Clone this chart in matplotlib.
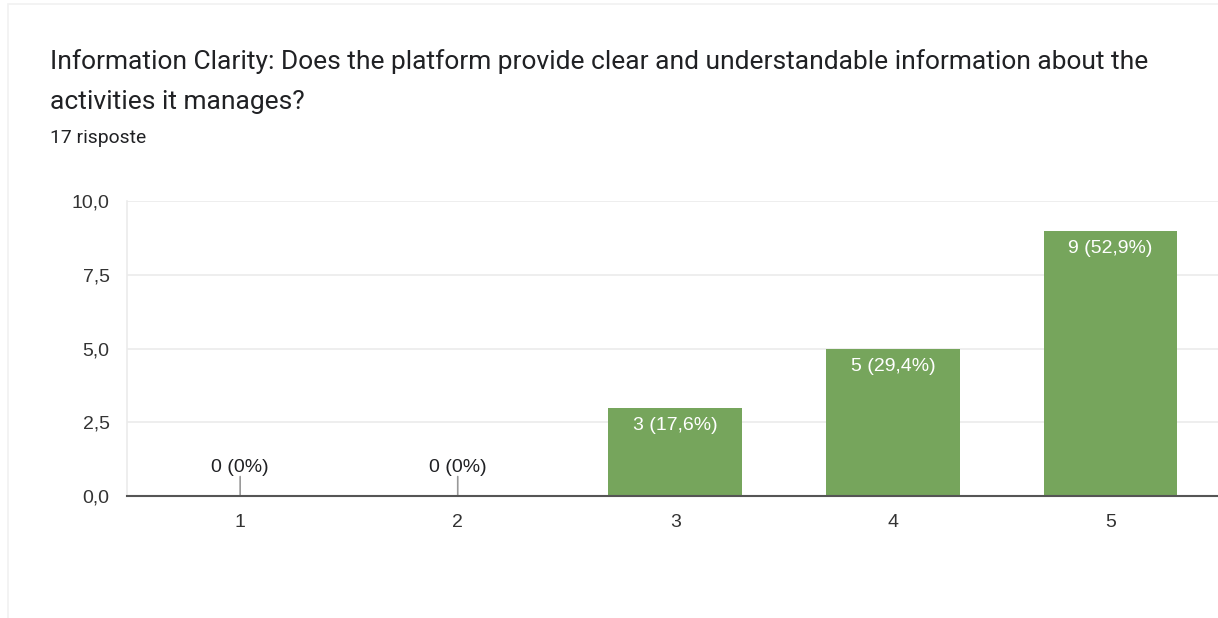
import matplotlib
matplotlib.use("Agg")
import matplotlib.pyplot as plt
from matplotlib.patches import Rectangle

categories = ["1", "2", "3", "4", "5"]
counts = [0, 0, 3, 5, 9]
labels = ["0 (0%)", "0 (0%)", "3 (17,6%)", "5 (29,4%)", "9 (52,9%)"]
yticks = [0.0, 2.5, 5.0, 7.5, 10.0]
ytick_labels = ["0,0", "2,5", "5,0", "7,5", "10,0"]
title_lines = ["Information Clarity: Does the platform provide clear and understandable information about the",
               "activities it manages?"]
subtitle = "17 risposte"

bar_color = "#76a55c"
text_color = "#202124"
tick_color = "#333333"
grid_color = "#ebebeb"

W, H = 1218, 618
fig = plt.figure(figsize=(W / 100, H / 100), dpi=100)
fig.patch.set_facecolor("white")

# card border
fig.add_artist(Rectangle((8 / W, -0.05), 1.2, 1 - 4 / H + 0.05, transform=fig.transFigure,
                         facecolor="none", edgecolor="#f1f1f1", linewidth=1.2))

fig.text(50 / W, 1 - 62 / H, title_lines[0], fontsize=19, family=["Roboto", "DejaVu Sans"],
         color=text_color, va="center", ha="left")
fig.text(50 / W, 1 - 102 / H, title_lines[1], fontsize=19, family=["Roboto", "DejaVu Sans"],
         color=text_color, va="center", ha="left")
fig.text(50 / W, 1 - 138 / H, subtitle, fontsize=13.9, family=["Roboto", "DejaVu Sans"],
         color=text_color, va="center", ha="left")

ax = fig.add_axes([127 / W, 1 - 496 / H, 1 - 127 / W + 0.01, (496 - 201) / H])
x = list(range(1, len(categories) + 1))
ax.bar(x, counts, width=0.615, color=bar_color, zorder=3)
ax.set_xlim(0.48, 5.55)
ax.set_ylim(0, 10)
ax.set_yticks(yticks)
ax.set_yticklabels(ytick_labels)
ax.set_xticks(x)
ax.set_xticklabels(categories)
ax.grid(axis="y", color=grid_color, linewidth=1.2, zorder=0)
ax.grid(axis="x", visible=False)
for s in ["top", "right"]:
    ax.spines[s].set_visible(False)
ax.spines["left"].set_color(grid_color)
ax.spines["left"].set_linewidth(1.2)
ax.spines["bottom"].set_color("#555555")
ax.spines["bottom"].set_linewidth(1.5)
ax.spines["bottom"].set_zorder(4)
ax.tick_params(axis="both", length=0, labelsize=14, labelcolor=tick_color)
ax.tick_params(axis="y", pad=12.5)
ax.tick_params(axis="x", pad=13)
for t in ax.get_xticklabels() + ax.get_yticklabels():
    t.set_family(["Liberation Sans", "DejaVu Sans"])

for xi, c, lab in zip(x, counts, labels):
    if c == 0:
        ax.annotate("", xy=(xi, 0), xytext=(0, 14), textcoords="offset points",
                    arrowprops=dict(arrowstyle="-", color="#999999", lw=1.2, shrinkA=0, shrinkB=0))
        ax.annotate(lab, xy=(xi, 0), xytext=(0, 20.5), textcoords="offset points",
                    ha="center", va="center", fontsize=14, color=text_color,
                    family=["Liberation Sans", "DejaVu Sans"])
    else:
        ax.annotate(lab, xy=(xi, c), xytext=(0, -13), textcoords="offset points",
                    ha="center", va="center", fontsize=14, color="white",
                    family=["Liberation Sans", "DejaVu Sans"], zorder=5)

fig.savefig("out.png", dpi=100, facecolor="white")
